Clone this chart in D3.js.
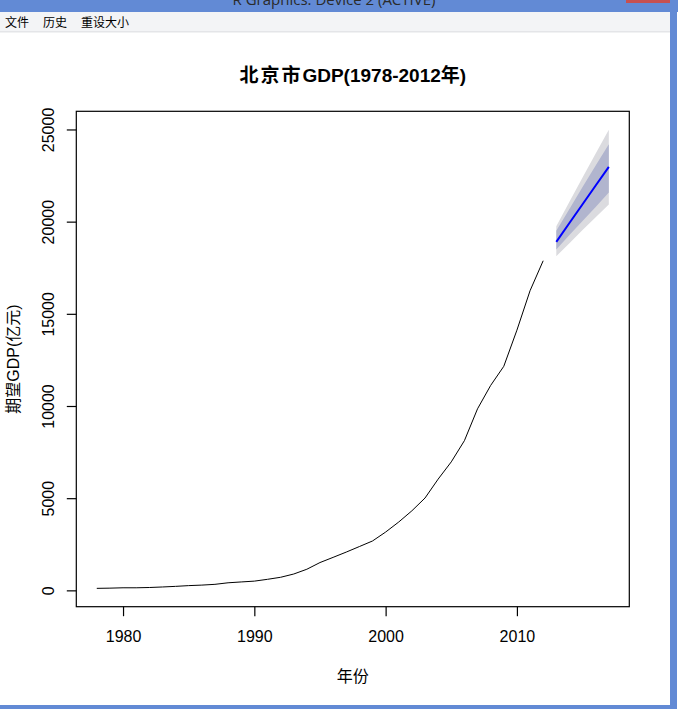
<!DOCTYPE html>
<html>
<head>
<meta charset="utf-8">
<script src="https://cdn.jsdelivr.net/npm/d3@7"></script>
<style>
  html, body { margin: 0; padding: 0; background: #ffffff; }
  svg { display: block; }
  text { font-family: "Liberation Sans", Arial, "Noto Sans CJK SC", sans-serif; }
</style>
</head>
<body>
<svg id="chart" width="678" height="709"></svg>
<script>
// ---------------- data ----------------
const years = [1978, 1979, 1980, 1981, 1982, 1983, 1984, 1985, 1986, 1987,
               1988, 1989, 1990, 1991, 1992, 1993, 1994, 1995, 1996, 1997,
               1998, 1999, 2000, 2001, 2002, 2003, 2004, 2005, 2006, 2007,
               2008, 2009, 2010, 2011, 2012];
const gdp = [108.8, 120.1, 139.1, 139.2, 154.9, 183.1, 216.6, 257.1, 284.9, 326.8,
             410.2, 456.0, 500.8, 598.9, 709.1, 886.2, 1145.3, 1507.7, 1789.2, 2075.6,
             2376.0, 2677.6, 3161.7, 3708.0, 4315.0, 5007.2, 6033.2, 6969.5, 8117.8, 9846.8,
             11115.0, 12153.0, 14113.6, 16251.9, 17879.4];

const fcYears = [2013, 2014, 2015, 2016, 2017];
const fcMean  = [18903, 19925, 20945, 21960, 22973];
const lo80    = [18490, 19270, 20030, 20790, 21584];
const hi80    = [19500, 20690, 21880, 23040, 24204];
const lo95    = [18126, 18830, 19540, 20240, 20932];
const hi95    = [19754, 21080, 22390, 23700, 24990];

const xTicks = [1980, 1990, 2000, 2010];
const yTicks = [0, 5000, 10000, 15000, 20000, 25000];

const title  = "北京市GDP(1978-2012年)";
const xLabel = "年份";
const yLabel = "期望GDP(亿元)";
const menuItems = ["文件", "历史", "重设大小"];
const windowTitle = "R Graphics: Device 2 (ACTIVE)";

// ---------------- layout ----------------
const W = 678, H = 709;
const plot = { left: 76.3, right: 629.3, top: 111.3, bottom: 606.7 };

const svg = d3.select("#chart");

// window chrome
svg.append("rect").attr("x", 0).attr("y", 0).attr("width", W).attr("height", H).attr("fill", "#ffffff");
svg.append("rect").attr("x", 0).attr("y", 0).attr("width", W).attr("height", 12).attr("fill", "#628AD5");
svg.append("text").attr("x", 334).attr("y", 4.5).attr("text-anchor", "middle")
  .attr("font-size", 15).attr("fill", "#2a2a2a")
  .style("font-family", "'Open Sans', 'Noto Sans', sans-serif").text(windowTitle);
svg.append("rect").attr("x", 626).attr("y", 0).attr("width", 45).attr("height", 3).attr("fill", "#C75050");
svg.append("rect").attr("x", 0).attr("y", 12).attr("width", 670).attr("height", 19).attr("fill", "#F3F4F6");
svg.append("rect").attr("x", 0).attr("y", 31).attr("width", 670).attr("height", 1.5).attr("fill", "#E4E5E8");
svg.append("rect").attr("x", 670).attr("y", 0).attr("width", 7).attr("height", H).attr("fill", "#628AD5");
svg.append("rect").attr("x", 0).attr("y", 705).attr("width", 677).attr("height", 4).attr("fill", "#628AD5");

const menuX = [5, 43, 81];
svg.selectAll("text.menu").data(menuItems).join("text")
  .attr("class", "menu")
  .attr("x", (d, i) => menuX[i]).attr("y", 27)
  .attr("font-size", 12).attr("fill", "#000")
  .style("font-family", "'Noto Sans CJK SC', sans-serif")
  .text(d => d);

// ---------------- scales (R-style 4% expansion) ----------------
const allX = years.concat(fcYears);
const xExt = d3.extent(allX);
const xPad = (xExt[1] - xExt[0]) * 0.04;
const x = d3.scaleLinear().domain([xExt[0] - xPad, xExt[1] + xPad]).range([plot.left, plot.right]);

const allY = gdp.concat(lo95, hi95);
const yExt = d3.extent(allY);
const yPad = (yExt[1] - yExt[0]) * 0.04;
const y = d3.scaleLinear().domain([yExt[0] - yPad, yExt[1] + yPad]).range([plot.bottom, plot.top]);

// clip
svg.append("clipPath").attr("id", "clip").append("rect")
  .attr("x", plot.left).attr("y", plot.top)
  .attr("width", plot.right - plot.left).attr("height", plot.bottom - plot.top);

const g = svg.append("g").attr("clip-path", "url(#clip)");

// bands
const fc = fcYears.map((yr, i) => ({ yr, m: fcMean[i], l80: lo80[i], h80: hi80[i], l95: lo95[i], h95: hi95[i] }));
const area95 = d3.area().x(d => x(d.yr)).y0(d => y(d.l95)).y1(d => y(d.h95));
const area80 = d3.area().x(d => x(d.yr)).y0(d => y(d.l80)).y1(d => y(d.h80));
g.append("path").datum(fc).attr("d", area95).attr("fill", "#DBDBDF");
g.append("path").datum(fc).attr("d", area80).attr("fill", "#B1B5CE");

// history line
const hist = years.map((yr, i) => ({ yr, v: gdp[i] }));
g.append("path").datum(hist)
  .attr("d", d3.line().x(d => x(d.yr)).y(d => y(d.v)))
  .attr("fill", "none").attr("stroke", "#000").attr("stroke-width", 1);

// forecast mean
g.append("path").datum(fc)
  .attr("d", d3.line().x(d => x(d.yr)).y(d => y(d.m)))
  .attr("fill", "none").attr("stroke", "#0000FF").attr("stroke-width", 2);

// frame
svg.append("rect")
  .attr("x", plot.left).attr("y", plot.top)
  .attr("width", plot.right - plot.left).attr("height", plot.bottom - plot.top)
  .attr("fill", "none").attr("stroke", "#000").attr("stroke-width", 1.2);

// x axis
const xAxis = d3.axisBottom(x).tickValues(xTicks).tickFormat(d3.format("d")).tickSize(9.5).tickPadding(7);
const gx = svg.append("g").attr("transform", `translate(0,${plot.bottom})`).call(xAxis);
gx.select(".domain").remove();
gx.selectAll(".tick line").attr("stroke", "#000").attr("stroke-width", 1.2);
gx.selectAll(".tick text").attr("font-size", 16).attr("fill", "#000")
  .style("font-family", "'Liberation Sans', Arial, sans-serif")
  .attr("y", null).attr("dy", null).attr("transform", "translate(0,35.5)");

// y axis
const yAxis = d3.axisLeft(y).tickValues(yTicks).tickFormat(d3.format("d")).tickSize(9.5);
const gy = svg.append("g").attr("transform", `translate(${plot.left},0)`).call(yAxis);
gy.select(".domain").remove();
gy.selectAll(".tick line").attr("stroke", "#000").attr("stroke-width", 1.2);
gy.selectAll(".tick text").attr("font-size", 16).attr("fill", "#000")
  .style("font-family", "'Liberation Sans', Arial, sans-serif")
  .attr("x", null).attr("dy", null)
  .attr("text-anchor", "middle")
  .attr("transform", "translate(-22.8,0) rotate(-90)");

// titles
const tt = svg.append("text").attr("x", (plot.left + plot.right) / 2).attr("y", 82)
  .attr("text-anchor", "middle").attr("font-size", 19).attr("font-weight", "bold").attr("fill", "#000");
tt.append("tspan").style("font-family", "'Noto Sans CJK SC', sans-serif").attr("letter-spacing", 2).text("北京市");
tt.append("tspan").text("GDP(1978-2012");
tt.append("tspan").style("font-family", "'Noto Sans CJK SC', sans-serif").text("年");
tt.append("tspan").text(")");

svg.append("text").attr("x", (plot.left + plot.right) / 2).attr("y", 682)
  .attr("text-anchor", "middle").attr("font-size", 16).attr("fill", "#000")
  .style("font-family", "'Noto Sans CJK SC', sans-serif").text(xLabel);

svg.append("text")
  .attr("transform", `translate(19,${(plot.top + plot.bottom) / 2}) rotate(-90)`)
  .attr("text-anchor", "middle").attr("font-size", 16).attr("fill", "#000")
  .text(yLabel);
</script>
</body>
</html>
